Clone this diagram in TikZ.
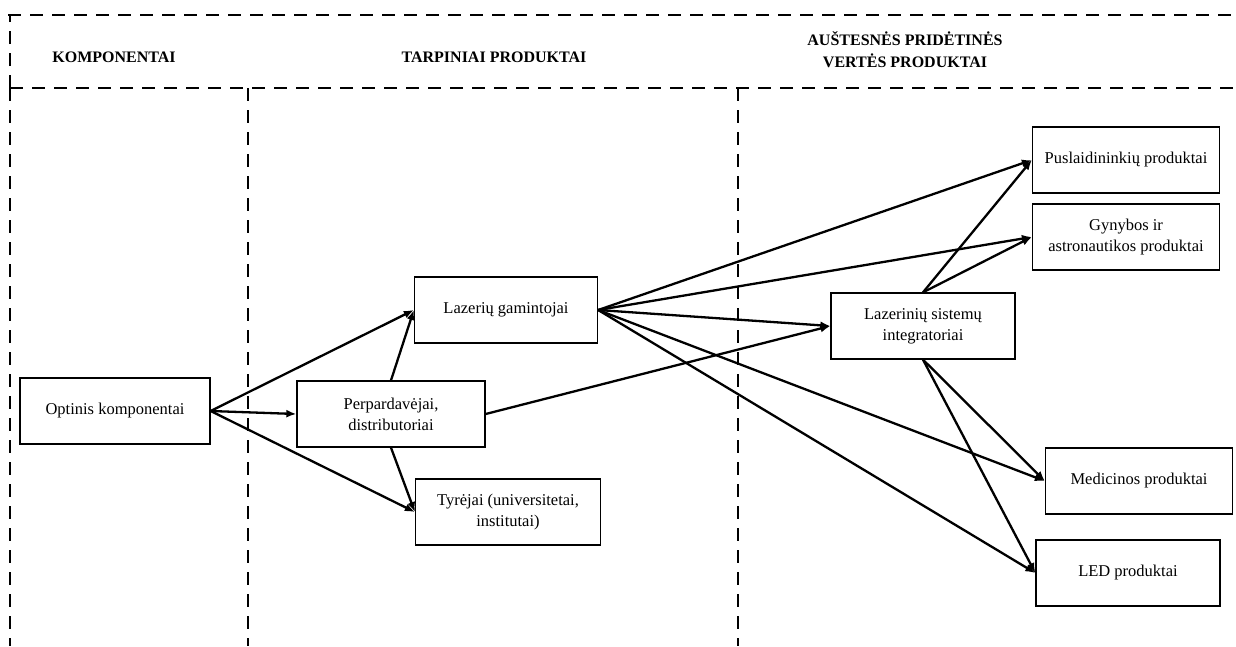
\documentclass[tikz,border=0pt]{standalone}
\usepackage{fontspec}
\setmainfont{Liberation Serif}
\usetikzlibrary{arrows.meta}
\begin{document}
\begin{tikzpicture}[x=1pt,y=-1pt,
  frame/.style={line width=2.4pt,dash pattern=on 13pt off 9pt},
  box/.style={draw,line width=1.3pt,minimum width=#1,minimum height=66pt,
    align=center,font=\fontsize{16.5}{21}\selectfont,inner sep=2pt},
  box/.default=186pt,
  head/.style={font=\bfseries\fontsize{16}{22}\selectfont,align=center},
  link/.style={line width=2.3pt,-{Latex[length=10pt,width=8pt]}}]
\useasboundingbox (0,0) rectangle (1236,646);
% column frame
\draw[frame] (8,15) -- (1236,15);
\draw[frame] (10,88) -- (1236,88);
\draw[frame] (10,88) -- (10,15);
\draw[frame] (10,88) -- (10,646);
\draw[frame] (248,88) -- (248,646);
\draw[frame] (738,88) -- (738,646);
% headings
\node[head] (h1) at (114,57) {KOMPONENTAI};
\node[head] (h2) at (494,57) {TARPINIAI PRODUKTAI};
\node[head] (h3) at (905,50) {AUŠTESNĖS PRIDĖTINĖS\\VERTĖS PRODUKTAI};
% boxes
\node[box=190pt] (ok) at (115,411) {Optinis komponentai};
\node[box=188pt] (pd) at (391,414) {Perpardavėjai,\\distributoriai};
\node[box=183pt] (lg) at (506,310) {Lazerių gamintojai};
\node[box=185pt] (ty) at (508,512) {Tyrėjai (universitetai,\\institutai)};
\node[box=184pt] (ls) at (923,326) {Lazerinių sistemų\\integratoriai};
\node[box=187pt] (pp) at (1126,160) {Puslaidininkių produktai};
\node[box=187pt] (ga) at (1126,237) {Gynybos ir\\astronautikos produktai};
\node[box=187pt] (mp) at (1139,481) {Medicinos produktai};
\node[box=184pt] (led) at (1128,573) {LED produktai};
% connectors
\draw[link] (ok.east) -- (lg.west);
\draw[link] (ok.east) -- (pd.west);
\draw[link] (ok.east) -- (ty.west);
\draw[link] (pd.north) -- (lg.west);
\draw[link] (pd.south) -- (ty.west);
\draw[link] (pd.east) -- (ls.west);
\draw[link] (lg.east) -- (pp.west);
\draw[link] (lg.east) -- (ga.west);
\draw[link] (lg.east) -- (ls.west);
\draw[link] (lg.east) -- (mp.west);
\draw[link] (lg.east) -- (led.west);
\draw[link] (ls.north) -- (pp.west);
\draw[link] (ls.north) -- (ga.west);
\draw[link] (ls.south) -- (mp.west);
\draw[link] (ls.south) -- (led.west);
\end{tikzpicture}
\end{document}
